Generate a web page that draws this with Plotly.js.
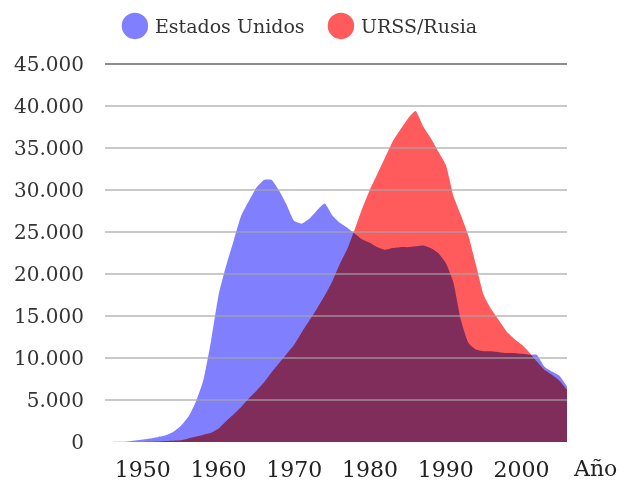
<!DOCTYPE html>
<html>
<head>
<meta charset="utf-8">
<script src="https://cdn.plot.ly/plotly-3.0.1.min.js"></script>
<style>
html, body { margin: 0; padding: 0; background: #ffffff; }
#chart { width: 628px; height: 483px; }
/* overlapping areas combine by multiplication (blue x red = dark purple) */
.scatterlayer .trace { mix-blend-mode: multiply; }
</style>
</head>
<body>
<div id="chart"></div>
<script>
// ---- data (warheads per year) ----
const years = [1945,1946,1947,1948,1949,1950,1951,1952,1953,1954,
               1955,1956,1957,1958,1959,1960,1961,1962,1963,1964,
               1965,1966,1967,1968,1969,1970,1971,1972,1973,1974,
               1975,1976,1977,1978,1979,1980,1981,1982,1983,1984,
               1985,1986,1987,1988,1989,1990,1991,1992,1993,1994,
               1995,1996,1997,1998,1999,2000,2001,2002,2003,2004,
               2005,2006];

const usa = [0,10,15,50,170,300,420,600,800,1200,
             1900,3000,4800,7400,12000,17500,21000,24000,27000,28700,
             30300,31200,31200,29900,28200,26300,26000,26600,27600,28400,
             27000,26100,25500,24800,24100,23700,23200,22900,23100,23200,
             23200,23300,23400,23100,22500,21300,19000,14500,11800,11000,
             10800,10800,10700,10600,10600,10500,10400,10400,9000,8400,
             7900,6600];

const urss = [0,0,0,0,1,5,25,50,120,150,
              200,420,650,870,1100,1600,2500,3300,4200,5200,
              6100,7100,8300,9400,10500,11600,13100,14500,15900,17400,
              19100,21200,23000,25400,27900,30100,32000,33900,35800,37200,
              38500,39400,37600,36200,34600,33000,29300,27000,24500,21000,
              17500,15800,14500,13200,12300,11600,10700,9600,8600,8000,
              7300,6200];

const seriesNames  = ['Estados Unidos', 'URSS/Rusia'];
const seriesColors = ['#8080ff', '#ff5a5c'];

const xTickVals = [1950, 1960, 1970, 1980, 1990, 2000];
const yTickVals = [0, 5000, 10000, 15000, 20000, 25000, 30000, 35000, 40000, 45000];
const xAxisLabel = 'Año';

// ---- traces ----
const seriesData = [usa, urss];
const traces = [];
seriesData.forEach((vals, i) => {
  traces.push({
    x: years, y: vals, type: 'scatter', mode: 'none',
    fill: 'tozeroy', fillcolor: seriesColors[i],
    line: { shape: 'spline', smoothing: 0.5 },
    name: seriesNames[i], showlegend: false, hoverinfo: 'skip'
  });
});
seriesNames.forEach((n, i) => {
  traces.push({
    x: [null], y: [null], type: 'scatter', mode: 'markers',
    marker: { size: 16, color: seriesColors[i], symbol: 'circle' },
    name: n, showlegend: true, hoverinfo: 'skip'
  });
});

const gridShapes = yTickVals.filter(v => v > 0).map(v => ({
  type: 'line', xref: 'paper', x0: 0, x1: 1, yref: 'y', y0: v, y1: v,
  layer: 'above',
  line: { color: v === 45000 ? 'rgba(120,120,120,0.85)' : 'rgba(165,165,165,0.6)', width: 2 }
}));

const layout = {
  width: 628, height: 483,
  margin: { l: 105, r: 61, t: 59, b: 41, pad: 0, autoexpand: false },
  paper_bgcolor: '#ffffff', plot_bgcolor: '#ffffff',
  separators: ',.',
  font: { family: 'DejaVu Serif', color: '#333333' },
  showlegend: true,
  legend: {
    orientation: 'h', xref: 'container', x: 0.183, xanchor: 'left',
    yref: 'container', y: 0.946, yanchor: 'middle',
    entrywidth: 161,
    font: { size: 19, color: '#333333', family: 'DejaVu Serif' },
    bgcolor: 'rgba(0,0,0,0)', itemclick: false, itemdoubleclick: false
  },
  xaxis: {
    range: [1945, 2006], tickvals: xTickVals, ticktext: xTickVals.map(String),
    showgrid: false, zeroline: false, showline: false, ticks: '',
    tickfont: { size: 22, color: '#222222' }, ticklabelstandoff: 12, fixedrange: true
  },
  yaxis: {
    range: [0, 45600], tickvals: yTickVals, tickformat: ',d',
    showgrid: false, zeroline: false, showline: false, ticks: '',
    tickfont: { size: 20, color: '#333333' }, ticklabelstandoff: 20, fixedrange: true
  },
  shapes: gridShapes,
  annotations: [{
    text: xAxisLabel, xref: 'paper', x: 1, xanchor: 'left', xshift: 4,
    yref: 'paper', y: 0, yanchor: 'top', yshift: -12, showarrow: false,
    font: { size: 22, color: '#222222', family: 'DejaVu Serif' }
  }]
};

Plotly.newPlot('chart', traces, layout, { displayModeBar: false, staticPlot: true }).then(() => {
  document.querySelectorAll('.legend .legendpoints path.scatterpts').forEach(p => {
    const t = p.getAttribute('transform') || '';
    p.setAttribute('transform', t + ' scale(1.65)');
  });
});
</script>
</body>
</html>
